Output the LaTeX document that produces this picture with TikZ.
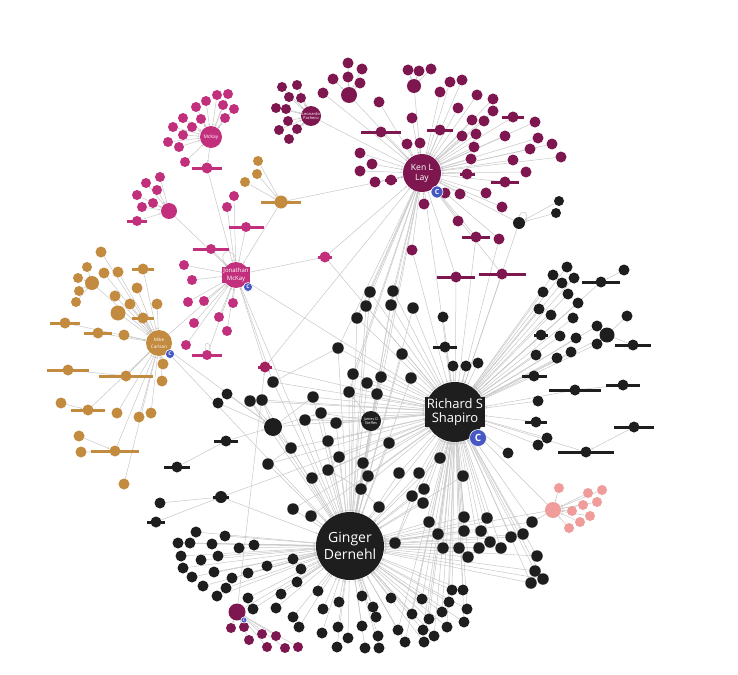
\documentclass[tikz,border=0pt]{standalone}
\usepackage{fontspec}
\setmainfont{Open Sans}
\usetikzlibrary{arrows.meta}
\definecolor{blk}{HTML}{1E1E1E}
\definecolor{kenc}{HTML}{7E1750}
\definecolor{mck}{HTML}{C2307D}
\definecolor{magd}{HTML}{A3215F}
\definecolor{gld}{HTML}{C38B40}
\definecolor{pnk}{HTML}{F09C9A}
\definecolor{cbl}{HTML}{4758C4}
\definecolor{edg}{HTML}{C8C8C8}
\pgfdeclarelayer{bg}
\pgfsetlayers{bg,main}
\tikzset{
  dot/.style={circle,inner sep=0pt,minimum size=#1},
  ed/.style={draw=edg,line width=0.5pt,-{Stealth[length=2.2pt,width=1.8pt]}},
  badge/.style={circle,fill=cbl,draw=white,line width=0.6pt,inner sep=0pt,minimum size=#1,text=white},
  hublabel/.style={text=white,align=center,inner sep=1pt},
}
% ---------------- node lists ----------------
\def\kenL{323/93,379/102,450/82,462/80,440/92,477/95,493/99,458/108,493/111,412/118,472/120,484/121,440/130,381/132,462/136,476/134,513/117,535/122,538/138,552/144,561/157,505/136,530/149,474/147,407/144,420/143,360/153,372/164,360/171,375/182,391/180,471/159,467/174,513/160,526/172,505/182,445/193,460/194,486/193,502/207,424/204,458/221,476/237,499/239,412/250}
\def\kenA{348/63,362/69,333/79,348/77,360/83}
\def\kenB{408/70,419/71,431/69}
\def\leoL{282/87,297/85,289/97,301/98,276/108,286/109,288/121,279/130,297/129,289/139}
\def\mckL{217/95,228/94,206/101,223/105,234/109,196/107,183/118,201/119,225/118,173/127,192/127,183/135,168/142,179/147,185/162}
\def\jsubL{160/177,146/183,157/190,137/195,153/203,142/207,137/221}
\def\jonL{234/196,227/207,246/227,211/249,184/265,192/280,188/302,204/301,194/323,219/317,227/331,186/345,207/355,233/303}
\def\gtwoL{258/161,257/174,245/182}
\def\mikL{101/252,104/273,118/272,143/269,92/283,115/296,137/288,130/304,157/304,118/313,143/318,65/323,98/333,124/335,163/364,162/381,126/376,88/410,117/413,139/417,151/413,115/451,124/484}
\def\msubL{87/267,78/278,79/291,76/302}
\def\pnkL{559/488,588/493,602/490,597/502,583/505,572/511,590/516,580/522,569/528}
\def\kelL{231/628,244/627,262/634,276/636,249/640,267/647,285/648,298/647}
\def\brL{567/267,553/275,562/283,574/278,601/282,543/292,568/294,578/303,539/309,551/315,573/318,597/326,607/335,541/335,560/336,576/338,597/344,536/355,557/358,571/352,534/376,575/390,538/401,536/422,547/438,538/445,508/453,443/317,445/347,453/366,466/366,478/363,586/452}
\def\cL{370/292,393/291,366/306,391/305,413/308,357/318,338/348,402/354,353/374,367/383,381/377,411/378,349/392,377/394,313/397,321/413,305/420,336/423,328/441,389/443,291/448,339/457,268/464,363/463,440/458,328/470,368/476,399/473,419/473,463/476,312/478,361/489,424/489,412/496,423/503,379/507,429/522,464/517,487/518,438/534,464/531,481/531,490/542,501/548,479/548,459/548,443/548,468/557,293/509,311/516,250/401,262/400,273/382,523/534,511/537,532/522,537/556,535/571,543/579,531/583,395/543}
\def\bgL{196/532,225/536,178/543,190/543,212/544,239/548,254/545,181/556,201/560,218/556,267/566,293/559,301/569,183/568,214/572,192/577,232/578,248/573,297/582,203/586,226/588,217/596,248/598,281/594,318/591,276/608,253/609,293/617,299/627,323/609,339/602,362/596,373/607,391/598,398/630,376/617,362/626,378/636,338/627,348/638,337/647,322/633,365/648,379/648,422/599,449/602,467/609,442/612,412/614,429/619,464/622,447/627,423/630,434/636,405/642,424/642,452/590,463/590}
\def\bars{440/130/26/kenc,381/132/40/kenc,513/117/22/kenc,467/174/15/kenc,505/182/28/kenc,476/237/28/kenc,391/180/12/kenc,456/277/38/kenc,502/274/47/kenc,207/168/30/mck,246/227/35/mck,211/249/36/mck,207/355/30/mck,137/221/20/mck,325/257/14/mck,265/367/14/magd,281/202/40/gld,143/269/22/gld,143/318/22/gld,65/323/30/gld,98/333/28/gld,68/370/42/gld,126/376/54/gld,88/410/34/gld,115/451/48/gld,601/282/38/blk,541/335/14/blk,534/376/25/blk,575/390/52/blk,623/385/34/blk,633/345/36/blk,634/427/40/blk,586/452/56/blk,536/422/22/blk,445/347/24/blk,226/441/24/blk,177/467/26/blk,156/522/18/blk,221/497/16/blk}
\begin{document}
\begin{tikzpicture}[x=1pt,y=-1pt]
\useasboundingbox (0,0) rectangle (738,674);
\begin{pgfonlayer}{bg}\fill[white] (0,0) rectangle (738,674);\end{pgfonlayer}
% ---------------- hubs ----------------
\node[dot=68,fill=blk] (gin) at (350,546) {};
\node[dot=60,fill=blk] (ric) at (455,412) {};
\node[dot=38,fill=kenc] (ken) at (422,173) {};
\node[dot=26,fill=mck] (jon) at (236,275) {};
\node[dot=26,fill=gld] (mik) at (159,343) {};
\node[dot=22,fill=mck] (mck) at (211,137) {};
\node[dot=20,fill=kenc] (leo) at (311,116) {};
\node[dot=16,fill=mck] (jsub) at (169,211) {};
\node[dot=13,fill=gld] (gtwo) at (281,202) {};
\node[dot=16,fill=pnk] (pk) at (553,510) {};
\node[dot=17,fill=kenc] (kel) at (237,612) {};
\node[dot=16,fill=kenc] (kA) at (349,95) {};
\node[dot=14,fill=kenc] (kB) at (414,86) {};
\node[dot=20,fill=blk] (jam) at (371,421) {};
\node[dot=18,fill=blk] (str) at (273,427) {};
\node[dot=11,fill=magd] (mag) at (265,367) {};
\node[dot=11,fill=mck] (magb) at (325,257) {};
\node[dot=11,fill=mck] (mb) at (207,168) {};
\node[dot=11,fill=kenc] (kxa) at (456,277) {};
\node[dot=11,fill=kenc] (kxb) at (502,274) {};
\node[dot=12,fill=blk] (bk) at (519,223) {};
\node[dot=10,fill=blk] (bka) at (559,201) {};
\node[dot=10,fill=blk] (bkb) at (556,213) {};
\node[dot=11,fill=blk] (oa) at (624,270) {};
\node[dot=11,fill=blk] (ob) at (627,316) {};
\node[dot=11,fill=blk] (oc) at (633,345) {};
\node[dot=11,fill=blk] (od) at (623,385) {};
\node[dot=11,fill=blk] (oe) at (634,427) {};
\node[dot=11,fill=blk] (la) at (227,394) {};
\node[dot=11,fill=blk] (lb) at (218,403) {};
\node[dot=11,fill=blk] (lc) at (226,441) {};
\node[dot=11,fill=blk] (ld) at (177,467) {};
\node[dot=12,fill=blk] (le) at (221,497) {};
\node[dot=11,fill=blk] (lf) at (160,503) {};
\node[dot=11,fill=blk] (lg) at (156,522) {};
\node[dot=11,fill=gld] (ga) at (68,370) {};
\node[dot=11,fill=gld] (gb) at (61,403) {};
\node[dot=11,fill=gld] (gc) at (79,436) {};
\node[dot=11,fill=gld] (gd) at (81,452) {};
% ---------------- leaves ----------------
\foreach \x/\y [count=\i] in \kenL {\node[dot=11,fill=kenc] (k\i) at (\x,\y) {};}
\foreach \x/\y [count=\i] in \kenA {\node[dot=11,fill=kenc] (ka\i) at (\x,\y) {};}
\foreach \x/\y [count=\i] in \kenB {\node[dot=11,fill=kenc] (kb\i) at (\x,\y) {};}
\foreach \x/\y [count=\i] in \leoL {\node[dot=10,fill=kenc] (le\i) at (\x,\y) {};}
\foreach \x/\y [count=\i] in \mckL {\node[dot=10,fill=mck] (m\i) at (\x,\y) {};}
\foreach \x/\y [count=\i] in \jsubL {\node[dot=10,fill=mck] (js\i) at (\x,\y) {};}
\foreach \x/\y [count=\i] in \jonL {\node[dot=10,fill=mck] (j\i) at (\x,\y) {};}
\foreach \x/\y [count=\i] in \gtwoL {\node[dot=10,fill=gld] (gt\i) at (\x,\y) {};}
\foreach \x/\y [count=\i] in \mikL {\node[dot=11,fill=gld] (mk\i) at (\x,\y) {};}
\node[dot=14,fill=gld] at (mk5) {};
\node[dot=15,fill=gld] at (mk10) {};
\foreach \x/\y [count=\i] in \msubL {\node[dot=10,fill=gld] (ms\i) at (\x,\y) {};}
\foreach \x/\y [count=\i] in \pnkL {\node[dot=10,fill=pnk] (p\i) at (\x,\y) {};}
\foreach \x/\y [count=\i] in \kelL {\node[dot=10,fill=kenc] (kl\i) at (\x,\y) {};}
\foreach \x/\y [count=\i] in \brL {\node[dot=11,fill=blk] (r\i) at (\x,\y) {};}
\node[dot=15,fill=blk] at (r13) {};
\foreach \x/\y [count=\i] in \cL {\node[dot=11.5,fill=blk] (c\i) at (\x,\y) {};}
\foreach \x/\y [count=\i] in \bgL {\node[dot=11,fill=blk] (g\i) at (\x,\y) {};}
% label bars
\foreach \x/\y/\w/\c in \bars {\fill[\c] (\x-\w/2,\y-0.8) rectangle (\x+\w/2,\y+1.6);}
% ---------------- connectors ----------------
\begin{pgfonlayer}{bg}
\foreach \x/\y [count=\i] in \kenL {\draw[ed] (k\i) -- (ken);}
\foreach \x/\y [count=\i] in \kenA {\draw[ed] (ka\i) -- (kA);}
\foreach \x/\y [count=\i] in \kenB {\draw[ed] (kb\i) -- (kB);}
\foreach \x/\y [count=\i] in \leoL {\draw[ed] (le\i) -- (leo);}
\foreach \x/\y [count=\i] in \mckL {\draw[ed] (m\i) -- (mck);}
\foreach \x/\y [count=\i] in \jsubL {\draw[ed] (js\i) -- (jsub);}
\foreach \x/\y [count=\i] in \jonL {\draw[ed] (j\i) -- (jon);}
\foreach \x/\y [count=\i] in \gtwoL {\draw[ed] (gt\i) -- (gtwo);}
\foreach \x/\y [count=\i] in \mikL {\draw[ed] (mk\i) -- (mik);}
\foreach \x/\y [count=\i] in \msubL {\draw[ed] (ms\i) -- (mk5);}
\foreach \x/\y [count=\i] in \pnkL {\draw[ed] (p\i) -- (pk);}
\foreach \x/\y [count=\i] in \kelL {\draw[ed] (kl\i) -- (kel);}
\foreach \x/\y [count=\i] in \brL {\draw[ed] (r\i) -- (ric);}
\foreach \x/\y [count=\i] in \cL {\draw[ed] (c\i) -- (ric); \draw[ed] (c\i) -- (gin);}
\foreach \x/\y [count=\i] in \bgL {\draw[ed] (g\i) -- (gin); \ifdim\x pt>395pt \draw[ed] (g\i) -- (ric);\fi}
\foreach \a/\b in {kA/ken,kB/ken,leo/ken,mck/mb,mb/jon,jsub/jon,gtwo/ken,gtwo/jon,mik/jon,jon/magb,magb/ken,magb/ric,mag/jon,mag/ken,mag/ric,kel/mag,kel/gin,pk/ric,pk/gin,pk/c56,kxa/ken,kxa/ric,kxb/ken,kxb/ric,bk/ken,bk/ric,bka/bk,bkb/bk,oa/r5,ob/r13,oc/r13,od/r22,oe/r33,la/str,lb/str,lc/str,ld/lc,lf/le,lg/le,le/gin,le/ric,ga/mk17,gb/mk18,gc/mk22,gd/mk22,mik/str,str/ric,str/gin,jam/ric,jam/gin,jam/ken,ken/ric,ken/gin,ken/c1,ken/c3,ken/c6,ken/c7,ken/c9,ken/c13,ken/c2,ken/c4,k43/ric,k45/ric,k44/ric,jon/ric,jon/gin,jam/c16,jam/c17,jam/c18,jam/c13,str/c15,str/c16,str/c21,c53/c7,c53/jon,c51/str,c52/str,mik/gin,c23/c21,c22/c26,c14/c10,c27/c24,c32/c26,c36/c32,c61/c34}
  {\draw[ed] (\a) -- (\b);}
\draw[edg,line width=0.5pt] (jon.north west) .. controls (214,250) and (236,246) .. (jon.north);
\draw[edg,line width=0.5pt] (207,353) .. controls (200,340) and (214,340) .. (209,353);
\draw[edg,line width=0.5pt] (bk.east) .. controls (530,212) and (522,208) .. (bk.north);
\end{pgfonlayer}
% ---------------- hub labels ----------------
\node[hublabel,font=\fontsize{14}{17}\selectfont] (ginl) at (gin) {Ginger\\Dernehl};
\node[hublabel,fill=blk,inner sep=1.5pt,font=\fontsize{13}{14.5}\selectfont] (ricl) at (ric) {Richard S\\Shapiro};
\node[hublabel,font=\fontsize{8.6}{10}\selectfont] (kenl) at (ken) {Ken L\\Lay};
\node[hublabel,fill=mck,font=\fontsize{6}{7.5}\selectfont] (jonl) at (jon) {Jonathan\\McKay};
\node[hublabel,font=\fontsize{4.6}{7}\selectfont] (mikl) at (mik) {Mike\\Carlson};
\node[hublabel,font=\fontsize{4.8}{6}\selectfont] (mckl) at (mck) {McKay};
\node[hublabel,font=\fontsize{4}{5}\selectfont] (leol) at (leo) {Leonardo\\Pacheco};
\node[hublabel,font=\fontsize{3.8}{4.6}\selectfont] (jaml) at (jam) {James D\\Steffes};
% ---------------- badges ----------------
\node[badge=17,font=\fontsize{10}{10}\selectfont\bfseries] (cric) at (478,438) {C};
\node[badge=12,font=\fontsize{7}{7}\selectfont\bfseries] (cken) at (437,192) {C};
\node[badge=9,font=\fontsize{5}{5}\selectfont\bfseries] (cjon) at (248,287) {C};
\node[badge=9,font=\fontsize{5}{5}\selectfont\bfseries] (cmik) at (170,354) {C};
\node[badge=6,font=\fontsize{3.5}{3.5}\selectfont\bfseries] (ckel) at (244,620) {C};
\end{tikzpicture}
\end{document}
